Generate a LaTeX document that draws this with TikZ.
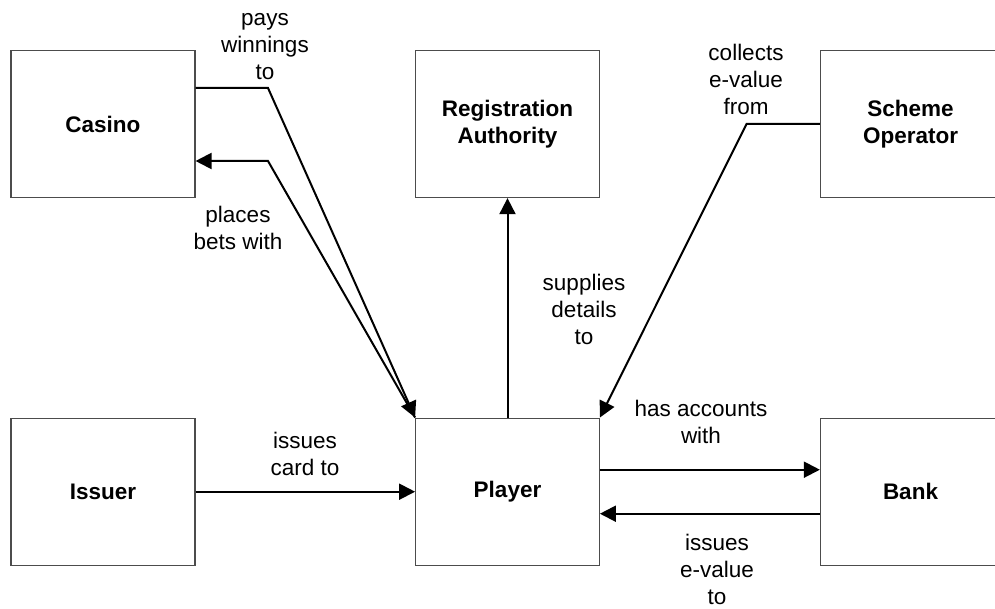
\documentclass[tikz,border=0pt]{standalone}
\usepackage{fontspec}
\setmainfont{Liberation Sans}
\usetikzlibrary{arrows.meta}

\begin{document}
\begin{tikzpicture}[x=1pt,y=-1pt,
  every node/.style={font=\fontsize{22.5}{27}\selectfont},
  entity/.style={draw=black!70, line width=1.3pt, rectangle,
    minimum height=147pt, align=center, inner sep=0pt,
    font=\fontsize{22.5}{27}\selectfont\bfseries},
  flow/.style={draw=black, line width=2pt,
    -{Triangle[length=16pt,width=16pt]}},
  note/.style={align=center, inner sep=0pt}]

\clip (0,0) rectangle (995,609);
\fill[white] (0,0) rectangle (995,609);

% participants
\node[entity, minimum width=184pt] (casino) at (102.9,124) {Casino};
\node[entity, minimum width=183.5pt] (reg) at (507.5,124) {Registration\\Authority};
\node[entity, minimum width=180pt] (scheme) at (910.5,124) {Scheme\\Operator};
\node[entity, minimum width=184pt] (issuer) at (102.9,491.7) {Issuer};
\node[entity, minimum width=183.5pt] (player) at (507.5,491.7) {Player\vphantom{I}};
\node[entity, minimum width=180pt] (bank) at (910.5,491.7) {Bank};

% bend points of the slanted connectors
\coordinate (pw) at (268,88);
\coordinate (pb) at (268,161);
\coordinate (ce) at (746.5,124);

% casino <-> player
\draw[flow] ([yshift=36pt]casino.east) -- (pw) -- (player.north west);
\draw[flow] (player.north west) -- (pb) -- ([yshift=-37pt]casino.east);

% player -> registration authority
\draw[flow] (player.north) -- (reg.south);

% scheme operator -> player
\draw[flow] (scheme.west) -- (ce) -- (player.north east);

% issuer -> player
\draw[flow] (issuer.east) -- (player.west);

% player <-> bank
\draw[flow] ([yshift=22pt]player.east) -- ([yshift=22pt]bank.west);
\draw[flow] ([yshift=-22pt]bank.west) -- ([yshift=-22pt]player.east);

% relation labels
\node[note] (l1) at (265,47) {pays\\winnings\\to};
\node[note] (l2) at (238,228) {places\\bets with};
\node[note] (l3) at (584,309) {supplies\\details\\to};
\node[note] (l4) at (746,79) {collects\\e-value\\from};
\node[note] (l5) at (305,454) {issues\\card to};
\node[note] (l6) at (701,422) {has accounts\\with};
\node[note] (l7) at (717,569) {issues\\e-value\\to};

\end{tikzpicture}
\end{document}
